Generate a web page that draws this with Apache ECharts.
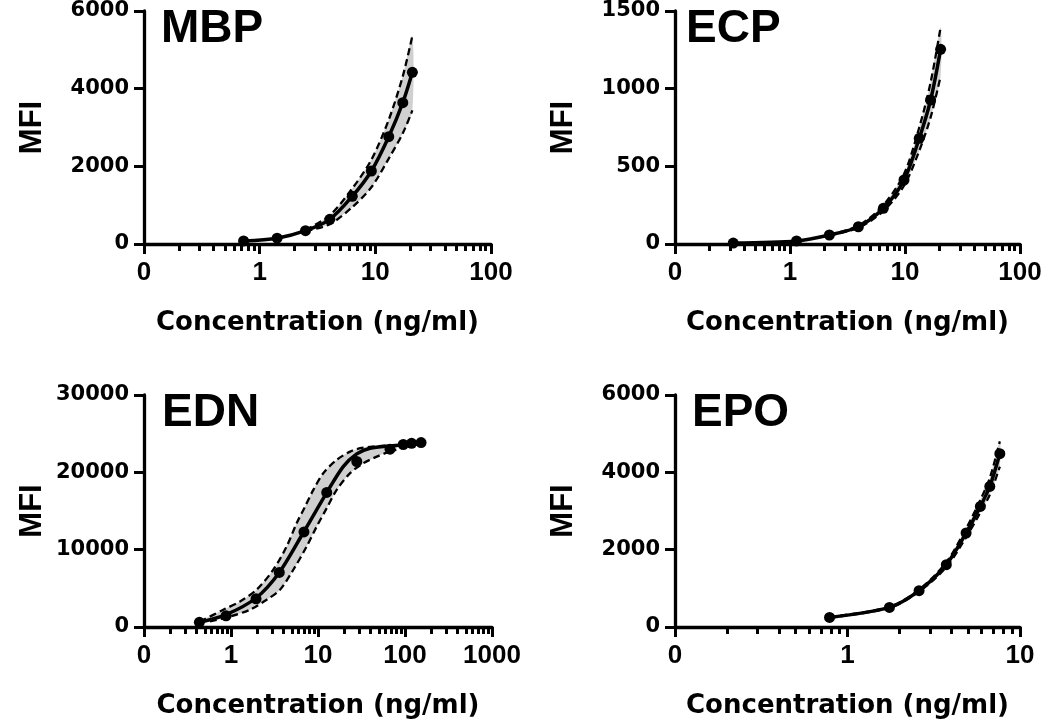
<!DOCTYPE html>
<html><head><meta charset="utf-8">
<script src="https://cdn.jsdelivr.net/npm/echarts@6/dist/echarts.min.js"></script>
<style>html,body{margin:0;padding:0;background:#fff}#c{width:1050px;height:725px}</style>
</head><body><div id="c"></div>
<script>
// ---- panel settings ----
const panelNames = ['MBP', 'ECP', 'EDN', 'EPO'];
const xMaxs = [100, 100, 1000, 10];
const yMaxs = [6000, 1500, 30000, 6000];
const yIntervals = [2000, 500, 10000, 2000];
const xAxisTitle = 'Concentration (ng/ml)';
const yAxisTitle = 'MFI';

// ---- MBP ----
const mbpConc = [0.726, 1.415, 2.49, 4.04, 6.32, 9.24, 13.06, 17.27, 20.9];
const mbpMfi = [80, 150, 343, 636, 1227, 1880, 2764, 3639, 4421];
const mbpUpperX = [2.49, 4.04, 6.32, 9.24, 13.06, 17.27, 20.9];
const mbpUpperY = [360, 740, 1430, 2170, 3200, 4320, 5360];
const mbpLowerX = [2.49, 4.04, 6.32, 9.24, 13.06, 17.27, 20.9];
const mbpLowerY = [330, 510, 950, 1460, 2200, 2850, 3440];

// ---- ECP ----
const ecpConc = [0.321, 1.14, 2.2, 3.93, 6.48, 9.8, 13.3, 16.7, 20.4];
const ecpMfi = [6, 20, 58, 111, 230, 412, 680, 927, 1253];
const ecpUpperX = [2.2, 3.93, 6.48, 9.8, 13.3, 16.7, 20.4];
const ecpUpperY = [60, 118, 250, 450, 750, 1040, 1395];
const ecpLowerX = [2.2, 3.93, 6.48, 9.8, 13.3, 16.7, 20.4];
const ecpLowerY = [56, 104, 212, 375, 600, 815, 1080];

// ---- EDN ----
const ednConc = [0.433, 0.877, 1.94, 3.59, 6.9, 12.6, 27.9, 67.3, 95.5, 119, 153];
const ednMfi = [600, 1450, 3650, 7050, 12300, 17400, 21400, 23000, 23600, 23750, 23850];
const ednFitX = [0.433, 0.877, 1.94, 3.59, 6.9, 12.6, 19.5, 27.9, 39.6, 67.3, 153];
const ednFitY = [600, 1600, 3750, 7050, 12350, 17380, 20740, 22380, 23120, 23410, 23670];
const ednUpperX = [0.44, 0.817, 1.27, 1.97, 3.06, 4.36, 5.69, 7.1, 8.84, 11.5, 16.4, 23.4, 30.4, 39.6, 60, 79.4];
const ednUpperY = [700, 2234, 3306, 4817, 7400, 10410, 13430, 15575, 17730, 19890, 21610, 22680, 23120, 23300, 23450, 23500];
const ednLowerX = [0.574, 0.975, 1.65, 2.57, 3.66, 5.2, 7.41, 9.66, 12.6, 16.4, 23.4, 33.2, 47.3, 61.7, 79.4];
const ednLowerY = [723, 1369, 2234, 3526, 4817, 7400, 10410, 12990, 15370, 17730, 19890, 21180, 22030, 22550, 22900];

// ---- EPO ----
const epoConc = [0.787, 1.75, 2.6, 3.74, 4.87, 5.89, 6.68, 7.64];
const epoMfi = [248, 507, 939, 1611, 2431, 3119, 3636, 4481];
const epoUpperX = [0.787, 1.75, 2.6, 3.74, 4.87, 5.89, 6.68, 7.64];
const epoUpperY = [260, 520, 965, 1675, 2545, 3285, 3850, 4800];
const epoLowerX = [0.787, 1.75, 2.6, 3.74, 4.87, 5.89, 6.68, 7.64];
const epoLowerY = [240, 495, 915, 1550, 2320, 2960, 3420, 4150];

const panels = [
  {pX: mbpConc, pY: mbpMfi, fX: mbpConc, fY: mbpMfi, uX: mbpUpperX, uY: mbpUpperY, lX: mbpLowerX, lY: mbpLowerY},
  {pX: ecpConc, pY: ecpMfi, fX: ecpConc, fY: ecpMfi, uX: ecpUpperX, uY: ecpUpperY, lX: ecpLowerX, lY: ecpLowerY},
  {pX: ednConc, pY: ednMfi, fX: ednFitX, fY: ednFitY, uX: ednUpperX, uY: ednUpperY, lX: ednLowerX, lY: ednLowerY},
  {pX: epoConc, pY: epoMfi, fX: epoConc, fY: epoMfi, uX: epoUpperX, uY: epoUpperY, lX: epoLowerX, lY: epoLowerY}
];

// ---- layout ----
const grids = [
  {left: 144, top: 11, width: 347, height: 233},
  {left: 675, top: 11, width: 345, height: 233},
  {left: 144, top: 395, width: 348, height: 232},
  {left: 675, top: 395, width: 345, height: 232}
];
const titlePos = [[161, 6], [686, 6], [162, 390], [692, 390]];

const pair = (xs, ys) => xs.map((x, i) => [x, ys[i]]);
function minorValues(max) {
  const out = [];
  for (let d = 0.1; d < max * 0.99; d *= 10) {
    for (let k = 2; k <= 9; k++) out.push(+(k * d).toPrecision(3));
  }
  return out;
}
const black = '#000';
const xLabelFmt = v => (v < 0.5 ? '0' : String(Math.round(v)));
const yLabelFmt = v => String(v);

const xAxes = [], yAxes = [], series = [], titles = [];
panels.forEach((p, gi) => {
  titles.push({
    text: panelNames[gi], left: titlePos[gi][0], top: titlePos[gi][1], padding: 0,
    textStyle: {fontFamily: 'Liberation Sans', fontWeight: 'bold', fontSize: 46, color: black}
  });
  xAxes.push({
    type: 'log', logBase: 10, gridIndex: gi, min: 0.1, max: xMaxs[gi], position: 'bottom',
    axisLine: {show: true, onZero: false, lineStyle: {color: black, width: 3.3}},
    axisTick: {show: true, length: 10, lineStyle: {color: black, width: 3}},
    axisLabel: {formatter: xLabelFmt, fontFamily: 'Liberation Sans', fontWeight: 'bold', fontSize: 26, color: black, margin: 16},
    splitLine: {show: false},
    name: xAxisTitle, nameLocation: 'middle', nameGap: 66,
    nameTextStyle: {fontFamily: 'DejaVu Sans', fontWeight: 'bold', fontSize: 26, color: black}
  });
  xAxes.push({
    type: 'log', logBase: 10, gridIndex: gi, min: 0.1, max: xMaxs[gi], position: 'bottom',
    axisLine: {show: false, onZero: false},
    axisTick: {show: true, length: 7, customValues: minorValues(xMaxs[gi]), lineStyle: {color: black, width: 3}},
    axisLabel: {show: false},
    splitLine: {show: false}
  });
  yAxes.push({
    type: 'value', gridIndex: gi, min: 0, max: yMaxs[gi], interval: yIntervals[gi],
    axisLine: {show: true, onZero: false, lineStyle: {color: black, width: 3.3}},
    axisTick: {show: true, length: 10, lineStyle: {color: black, width: 3}},
    axisLabel: {formatter: yLabelFmt, fontFamily: 'DejaVu Sans', fontWeight: 'bold', fontSize: 21, color: black, margin: 15},
    splitLine: {show: false},
    name: yAxisTitle, nameLocation: 'middle', nameGap: 96,
    nameTextStyle: {fontFamily: 'Liberation Sans', fontWeight: 'bold', fontSize: 31, color: black}
  });
  const xi = gi * 2;
  series.push({
    type: 'custom', xAxisIndex: xi, yAxisIndex: gi, z: 1, silent: true,
    data: [[1, 1]],
    renderItem: (params, api) => {
      const pts = [];
      for (let i = 0; i < p.uX.length; i++) pts.push(api.coord([p.uX[i], p.uY[i]]));
      for (let i = p.lX.length - 1; i >= 0; i--) pts.push(api.coord([p.lX[i], p.lY[i]]));
      return {type: 'polygon', shape: {points: pts, smooth: 0.25}, style: {fill: '#d0d0d0'}};
    }
  });
  [[p.uX, p.uY], [p.lX, p.lY]].forEach(([xs, ys]) => series.push({
    type: 'line', xAxisIndex: xi, yAxisIndex: gi, z: 3, data: pair(xs, ys),
    showSymbol: false, smooth: 0.3, silent: true,
    lineStyle: {color: black, width: 2.3, type: [7, 4]}
  }));
  series.push({
    type: 'line', xAxisIndex: xi, yAxisIndex: gi, z: 4, data: pair(p.fX, p.fY),
    showSymbol: false, smooth: 0.3, silent: true,
    lineStyle: {color: black, width: 3.5}
  });
  series.push({
    type: 'scatter', xAxisIndex: xi, yAxisIndex: gi, z: 5, data: pair(p.pX, p.pY),
    symbolSize: 11, itemStyle: {color: black, opacity: 1}, silent: true
  });
});

const chart = echarts.init(document.getElementById('c'), null, {renderer: 'canvas'});
chart.setOption({
  animation: false,
  backgroundColor: '#fff',
  title: titles,
  grid: grids,
  xAxis: xAxes,
  yAxis: yAxes,
  series: series
});
</script></body></html>
